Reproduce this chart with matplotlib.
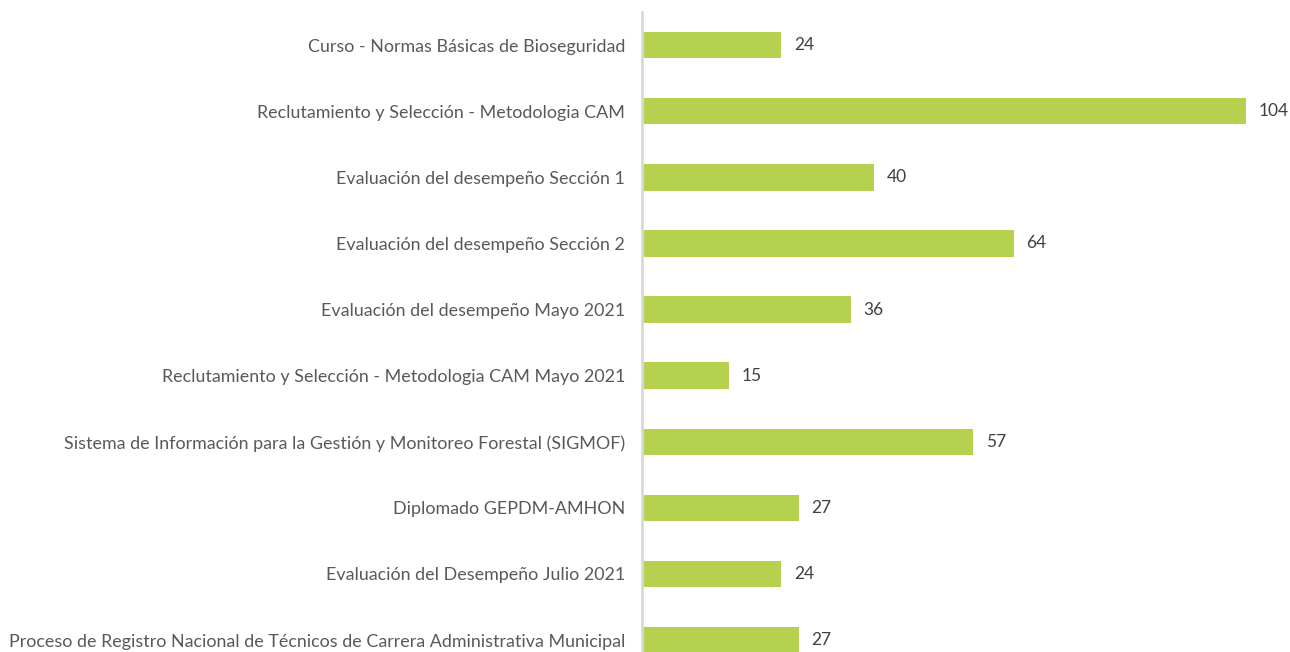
import matplotlib.pyplot as plt

courses = [
    "Curso - Normas Básicas de Bioseguridad",
    "Reclutamiento y Selección - Metodologia CAM",
    "Evaluación del desempeño Sección 1",
    "Evaluación del desempeño Sección 2",
    "Evaluación del desempeño Mayo 2021",
    "Reclutamiento y Selección - Metodologia CAM Mayo 2021",
    "Sistema de Información para la Gestión y Monitoreo Forestal (SIGMOF)",
    "Diplomado GEPDM-AMHON",
    "Evaluación del Desempeño Julio 2021",
    "Proceso de Registro Nacional de Técnicos de Carrera Administrativa Municipal",
]
participants = [24, 104, 40, 64, 36, 15, 57, 27, 24, 27]

plt.rcParams['font.family'] = ['Lato', 'DejaVu Sans']

fig = plt.figure(figsize=(12.9, 6.52), dpi=100)
ax = fig.add_axes([642 / 1290, 0, 648 / 1290, 640 / 652])

pos = list(range(len(courses)))
ax.barh(pos, participants, height=0.4, color='#b5d14f')
for y, v in zip(pos, participants):
    ax.text(v + 2.2, y, str(v), va='center', ha='left', fontsize=12.5, color='#404040')

ax.set_xlim(0, 111.6)
ax.set_ylim(9.18, -0.5)
ax.set_yticks(pos)
ax.set_yticklabels(courses, fontsize=12.85, color='#595959')
ax.tick_params(axis='y', length=0, pad=12)
ax.set_xticks([])
for side in ['top', 'right', 'bottom']:
    ax.spines[side].set_visible(False)
ax.spines['left'].set_color('#d9d9d9')
ax.spines['left'].set_linewidth(2)

fig.savefig('out.png', dpi=100)
